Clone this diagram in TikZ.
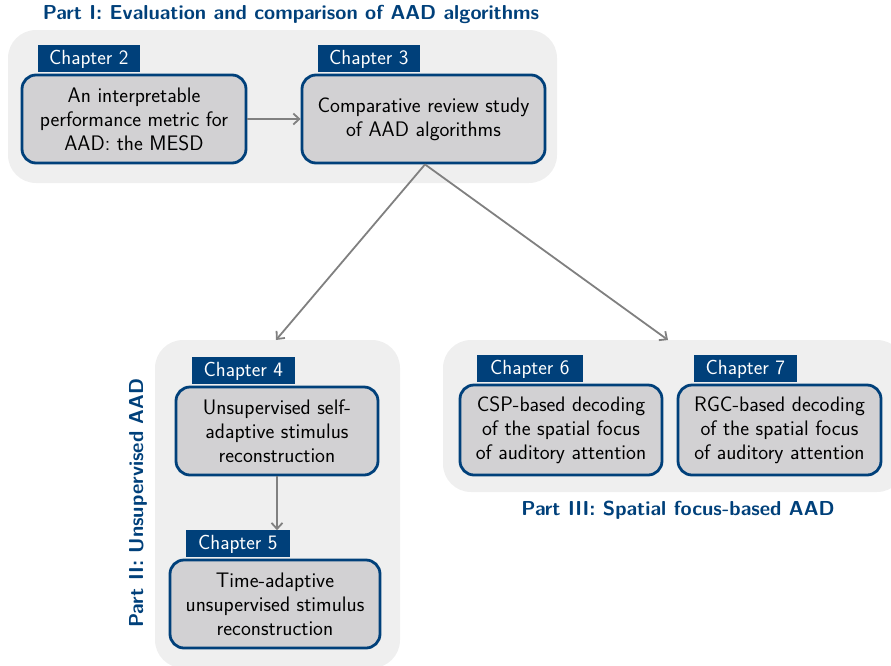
\documentclass[tikz,border=0pt]{standalone}
\usetikzlibrary{arrows.meta}
\definecolor{kublue}{HTML}{00407A}
\definecolor{boxgrey}{HTML}{D2D1D3}
\definecolor{partbg}{HTML}{EFEFEF}
\definecolor{linkgrey}{HTML}{808080}
\begin{document}
\begin{tikzpicture}[x=1pt,y=-1pt,
  font=\sffamily\fontsize{21}{24}\selectfont,
  partbox/.style={fill=partbg,draw=none,rounded corners=28pt},
  chapbox/.style={draw=kublue,line width=2.8pt,fill=boxgrey,rounded corners=14pt,
    align=center,inner sep=0pt},
  chaptab/.style={fill=kublue,text=white,anchor=south west,inner sep=0pt,
    minimum height=27pt,font=\sffamily\fontsize{20.5}{24}\selectfont},
  parttitle/.style={text=kublue,font=\sffamily\bfseries\fontsize{20.2}{24}\selectfont},
  link/.style={draw=linkgrey,line width=1.8pt,-{Straight Barb[length=6pt,width=11pt]}}]
\useasboundingbox (0,0) rectangle (891,665);

% part backgrounds
\fill[partbox] (8,30) rectangle (557,183);
\fill[partbox] (155,340) rectangle (400,668);
\fill[partbox] (443,340) rectangle (905,492);

% part titles
\node[parttitle] (p1) at (291,14) {Part I: Evaluation and comparison of AAD algorithms};
\node[parttitle,rotate=90] (p2) at (138,503) {Part II: Unsupervised AAD};
\node[parttitle] (p3) at (678,510) {Part III: Spatial focus-based AAD};

% chapter boxes
\node[chapbox,minimum width=224pt,minimum height=88pt] (c2) at (134,119)
  {An interpretable\\performance metric for\\AAD: the MESD};
\node[chapbox,minimum width=243pt,minimum height=88pt] (c3) at (423.5,119)
  {Comparative review study\\of AAD algorithms};
\node[chapbox,minimum width=202pt,minimum height=88pt] (c4) at (277,431)
  {Unsupervised self-\\adaptive stimulus\\reconstruction};
\node[chapbox,minimum width=210pt,minimum height=88pt] (c5) at (275,604)
  {Time-adaptive\\unsupervised stimulus\\reconstruction};
\node[chapbox,minimum width=202pt,minimum height=90pt] (c6) at (561,430)
  {CSP-based decoding\\of the spatial focus\\of auditory attention};
\node[chapbox,minimum width=203pt,minimum height=90pt] (c7) at (779.5,430)
  {RGC-based decoding\\of the spatial focus\\of auditory attention};

% chapter tabs
\node[chaptab,minimum width=102pt] (t2) at ([xshift=17pt,yshift=1pt]c2.north west) {Chapter 2};
\node[chaptab,minimum width=102pt] (t3) at ([xshift=17pt,yshift=1pt]c3.north west) {Chapter 3};
\node[chaptab,minimum width=103pt] (t4) at ([xshift=17pt,yshift=1pt]c4.north west) {Chapter 4};
\node[chaptab,minimum width=104pt] (t5) at ([xshift=17pt,yshift=1pt]c5.north west) {Chapter 5};
\node[chaptab,minimum width=106pt] (t6) at ([xshift=18pt,yshift=1pt]c6.north west) {Chapter 6};
\node[chaptab,minimum width=103pt] (t7) at ([xshift=17pt,yshift=1pt]c7.north west) {Chapter 7};

% links
\coordinate (in2) at (276,340);
\coordinate (in3) at (668,340);
\draw[link] (c2.east) -- (c3.west);
\draw[link] ([xshift=1.5pt]c3.south) -- (in2);
\draw[link] ([xshift=1.5pt]c3.south) -- (in3);
\draw[link] (c4.south) -- (c4.south |- t5.north);
\end{tikzpicture}
\end{document}
